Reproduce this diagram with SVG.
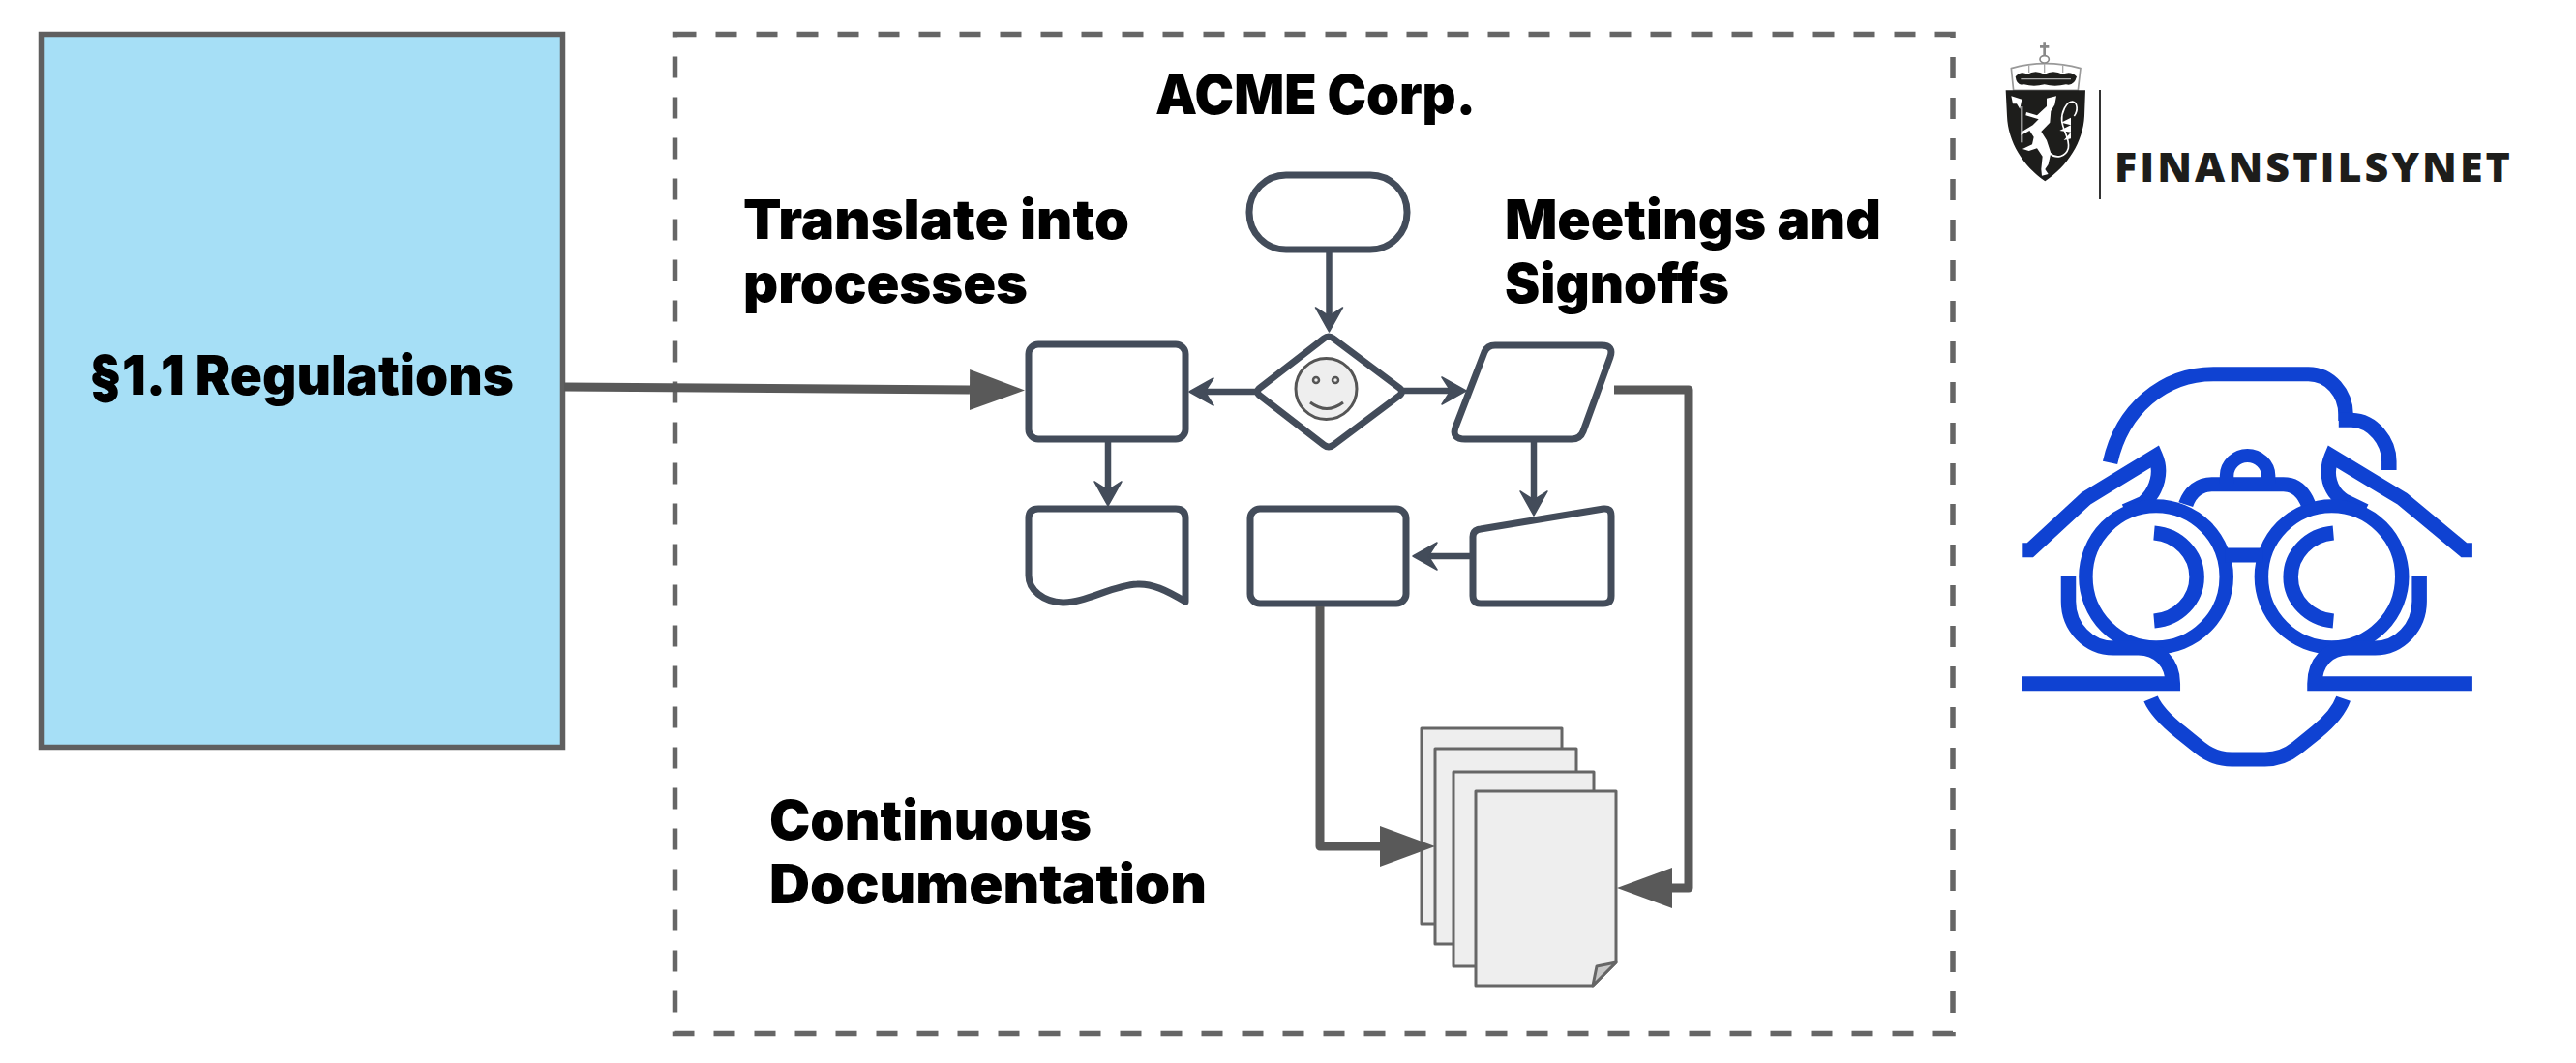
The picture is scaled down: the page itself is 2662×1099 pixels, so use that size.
<svg xmlns="http://www.w3.org/2000/svg" width="2662" height="1099" viewBox="0 0 2662 1099">
<style>
text{font-family:"Inter","Liberation Sans",sans-serif;font-weight:900;fill:#000;font-size:56px}
.fc{fill:#fff;stroke:#434c5a;stroke-width:7;stroke-linejoin:round}
.fl{fill:none;stroke:#434c5a;stroke-width:6.5}
.gl{fill:none;stroke:#595959;stroke-width:9;stroke-linejoin:round}
.sh{fill:#eee;stroke:#666;stroke-width:3;stroke-linejoin:round}
.bi{fill:none;stroke:#0f42d2;stroke-width:45;stroke-miterlimit:8}
</style>
<defs>
<marker id="gh" markerUnits="userSpaceOnUse" markerWidth="60" markerHeight="44" refX="0" refY="22" orient="auto"><path d="M0 1L57 22L0 43Z" fill="#595959"/></marker>
<marker id="fh" markerUnits="userSpaceOnUse" markerWidth="28" markerHeight="32" refX="12" refY="16" orient="auto"><path d="M1 2L26 16L1 30L10 16Z" fill="#434c5a" stroke="#434c5a" stroke-width="1.5" stroke-linejoin="round"/></marker>
</defs>

<g id="regulations">
<rect x="42.5" y="35.5" width="539" height="737" fill="#a6dff6" stroke="#5f5f5f" stroke-width="5.5"/>
<text x="92" y="408" textLength="439" lengthAdjust="spacingAndGlyphs">§1.1 Regulations</text>
</g>

<g id="acme">
<rect x="697.5" y="35.5" width="1320.5" height="1033" fill="none" stroke="#666" stroke-width="5.5" stroke-dasharray="22 20"/>
<text x="1194" y="118" textLength="331" lengthAdjust="spacingAndGlyphs">ACME Corp.</text>
<text x="768" y="247" textLength="399" lengthAdjust="spacingAndGlyphs">Translate into</text>
<text x="768" y="313" textLength="294" lengthAdjust="spacingAndGlyphs">processes</text>
<text x="1555" y="247" textLength="389" lengthAdjust="spacingAndGlyphs">Meetings and</text>
<text x="1555" y="313" textLength="232" lengthAdjust="spacingAndGlyphs">Signoffs</text>
<text x="795" y="868" textLength="333" lengthAdjust="spacingAndGlyphs">Continuous</text>
<text x="795" y="934" textLength="452" lengthAdjust="spacingAndGlyphs">Documentation</text>
</g>

<g id="flow-start"><rect class="fc" x="1291" y="181" width="163" height="77" rx="38" ry="38"/></g>
<g id="flow-step-a"><rect class="fc" x="1063" y="356" width="162" height="98" rx="10"/></g>
<g id="flow-decision"><path class="fc" d="M1368 350Q1373 346 1378 350L1446 401Q1451 405 1446 409L1378 460Q1373 464 1368 460L1302 409Q1297 405 1302 401Z"/>
<circle cx="1370.5" cy="402" r="31.5" fill="#eee" stroke="#555" stroke-width="3"/>
<circle cx="1360" cy="393" r="3" fill="none" stroke="#555" stroke-width="2.5"/><circle cx="1380" cy="393" r="3" fill="none" stroke="#555" stroke-width="2.5"/>
<path d="M1354 416Q1371 429 1388 416" fill="none" stroke="#555" stroke-width="3"/></g>
<g id="flow-data"><path class="fc" d="M1545 357H1655Q1668 357 1664 369L1636 446Q1633 454 1624 454H1514Q1500 454 1504 442L1534 364Q1537 357 1545 357Z"/></g>
<g id="flow-document"><path class="fc" d="M1073 526H1215Q1225 526 1225 536V622C1205 610 1190 603 1175 604C1150 605 1120 624 1098 623C1078 622 1063 610 1063 595V536Q1063 526 1073 526Z"/></g>
<g id="flow-step-b"><rect class="fc" x="1292" y="526" width="161" height="98" rx="10"/></g>
<g id="flow-manual"><path class="fc" d="M1530 547L1657 526Q1665 525 1665 533V616Q1665 624 1657 624H1530Q1522 624 1522 616V555Q1522 548 1530 547Z"/></g>

<g id="documents">
<rect class="sh" x="1469" y="753" width="145" height="202"/>
<rect class="sh" x="1483" y="774" width="146" height="202"/>
<rect class="sh" x="1502" y="798" width="145" height="201"/>
<path class="sh" d="M1525 818H1670V995L1646 1019H1525Z"/>
<path d="M1646 1019L1650 999L1670 995Z" fill="#c8c8c8" stroke="#666" stroke-width="3" stroke-linejoin="round"/>
</g>

<g id="finanstilsynet-logo">
<g transform="translate(2060 30) scale(.3333)">
<path d="M55 122Q160 92 270 122L262 190H62Z" fill="#fff" stroke="#999" stroke-width="5"/>
<path d="M68 148Q85 128 105 140Q130 125 158 140Q185 125 215 140Q240 128 258 148Q250 178 225 172Q190 180 158 172Q125 180 95 172Q72 178 68 148Z" fill="#1d1d1b"/>
<path d="M110 112V135M158 105V135M215 112V135M85 155H240" stroke="#aaa" stroke-width="4" fill="none"/>
<ellipse cx="158" cy="94" rx="14" ry="11" fill="#fff" stroke="#888" stroke-width="5"/>
<path d="M158 40V84M144 55H172" stroke="#888" stroke-width="8" fill="none"/>
<path d="M38 190H285L282 270C278 350 230 425 160 472C92 425 45 350 42 270Z" fill="#1d1d1b"/>
<path d="M165 215L195 208L190 235L178 255L175 290L148 318L165 345L178 385L170 420L160 435L170 450L150 455L148 435L152 395L135 370L110 378L90 372L120 358L125 335L112 315L85 330L85 320L122 298L140 280L100 268L102 258L135 268L165 240Z" fill="#fff"/>
<path d="M55 208L88 218L82 248L72 232L60 232Z" fill="#fff"/>
<path d="M88 240V352" stroke="#ccc" stroke-width="6" fill="none"/>
<path d="M175 385C195 405 225 395 232 370C238 340 215 315 212 285C210 260 225 225 245 225C262 228 262 255 250 270" stroke="#fff" stroke-width="5" fill="none"/>
<path d="M240 275L210 290L240 298L205 315L240 320L218 345L240 340Z" fill="#fff"/>
</g>
<rect x="2169" y="93" width="2" height="113" fill="#333"/>
<text x="2185" y="188" textLength="409" style="font-family:'Open Sans','Liberation Sans',sans-serif;font-weight:800;font-size:43px;fill:#1d1d1b">FINANSTILSYNET</text>
</g>

<g id="binoculars-icon" transform="translate(2060 360) scale(.3444 .3333)">
<path class="bi" d="M350 355C385 190 510 80 660 80H945C1010 80 1057 140 1057 205V225"/>
<path class="bi" d="M1036 223H1075C1140 225 1187 290 1187 350V378"/>
<path class="bi" d="M88 626H110L278 466L486 335C505 380 495 440 450 480L395 505"/>
<path class="bi" d="M1437 626H1412L1228 468L1015 335C995 385 1005 445 1055 475L1115 505"/>
<ellipse class="bi" cx="488" cy="709" rx="211" ry="219" style="stroke-width:42"/>
<ellipse class="bi" cx="1015" cy="709" rx="211" ry="219" style="stroke-width:42"/>
<path class="bi" d="M482 573A140 137 0 0 1 482 846"/>
<path class="bi" d="M1020 573A140 137 0 0 0 1020 846"/>
<path class="bi" d="M695 642H810"/>
<path class="bi" d="M577 485C590 445 620 422 655 422H870C905 422 930 445 945 485"/>
<path class="bi" d="M700 420V395C700 360 730 333 762 333C795 333 825 360 825 395V420" style="stroke-width:42"/>
<path class="bi" d="M225 705V785C225 865 285 930 360 930H435C495 930 538 975 538 1040H87"/>
<path class="bi" d="M1278 705V785C1278 865 1218 930 1145 930H1065C1005 930 964 975 964 1040H1437"/>
<path class="bi" d="M472 1087C490 1130 530 1165 560 1190L620 1240C650 1265 680 1275 715 1275H815C850 1275 880 1265 910 1240L970 1190C1000 1165 1035 1130 1050 1087"/>
</g>

<g id="connectors">
<path class="gl" d="M583 400L1002 403" marker-end="url(#gh)"/>
<path class="gl" d="M1668 403H1745V918H1728" marker-end="url(#gh)"/>
<path class="gl" d="M1364 627V875H1426" marker-end="url(#gh)"/>
<path class="fl" d="M1373.5 258V329" marker-end="url(#fh)"/>
<path class="fl" d="M1298 405H1243" marker-end="url(#fh)"/>
<path class="fl" d="M1450 404H1501" marker-end="url(#fh)"/>
<path class="fl" d="M1145 456V509" marker-end="url(#fh)"/>
<path class="fl" d="M1585 456V519" marker-end="url(#fh)"/>
<path class="fl" d="M1522 575H1474" marker-end="url(#fh)"/>
</g>
</svg>
